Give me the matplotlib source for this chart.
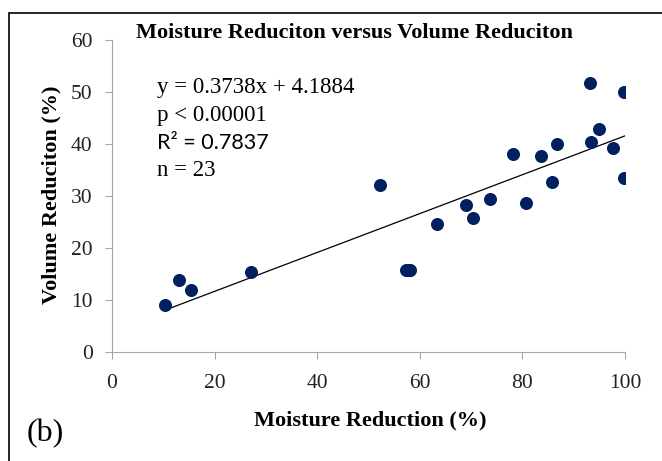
import numpy as np
import matplotlib.pyplot as plt
from matplotlib.patches import Rectangle

# moisture reduction (%) vs volume reduction (%)
moisture = [10.3, 13.1, 15.4, 27.1, 52.2, 57.3, 57.8, 58.1, 63.4, 69.0, 70.4, 73.7,
            78.2, 80.7, 83.6, 85.8, 86.8, 93.2, 93.4, 94.9, 97.7, 99.8, 99.8]
volume = [9.0, 13.8, 11.9, 15.4, 32.1, 15.8, 15.8, 15.8, 24.6, 28.3, 25.8, 29.4,
          38.1, 28.7, 37.7, 32.7, 40.0, 51.7, 40.4, 42.9, 39.2, 50.0, 33.5]
slope = 0.3738
intercept = 4.1884
xticks = [0, 20, 40, 60, 80, 100]
yticks = [0, 10, 20, 30, 40, 50, 60]

serif = ['Liberation Serif', 'DejaVu Serif']

fig = plt.figure(figsize=(6.62, 4.61), dpi=100)
ax = fig.add_axes([112/662, 1 - 352/461, (625-112)/662, (352-40)/461])

ax.scatter(moisture, volume, s=70, color='#002060', zorder=3)
xs = np.array([min(moisture), 100])
ax.plot(xs, slope*xs + intercept, color='black', lw=0.9)

ax.set_xlim(0, 100)
ax.set_ylim(0, 60)
ax.set_xticks(xticks)
ax.set_yticks(yticks)
for s in ['top', 'right']:
    ax.spines[s].set_visible(False)
for s in ['left', 'bottom']:
    ax.spines[s].set_color('#a6a6a6')
ax.tick_params(direction='out', length=5, color='#a6a6a6', labelsize=15.5)
ax.tick_params(axis='x', pad=11)
ax.tick_params(axis='y', pad=9)
for lab in ax.get_xticklabels() + ax.get_yticklabels():
    lab.set_family(serif)
    lab.set_color('#222222')

fig.text(370/662, 1 - 420/461, 'Moisture Reduction (%)', family=serif, fontsize=16,
         fontweight='bold', ha='center', va='center')
fig.text(51/662, 1 - 195/461, 'Volume Reduciton (%)', family=serif, fontsize=16,
         fontweight='bold', ha='center', va='center', rotation=90)
fig.text(354/662, 1 - 33/461, 'Moisture Reduciton versus Volume Reduciton', family=serif,
         fontsize=16, fontweight='bold', ha='center', va='center')

fig.text(157/662, 1 - 88/461, 'y = 0.3738x + 4.1884', family=serif, fontsize=16.5, va='center')
fig.text(157/662, 1 - 116/461, 'p < 0.00001', family=serif, fontsize=16.5, va='center')
fig.text(157/662, 1 - 143/461, 'R² = 0.7837', family=['Lato', 'DejaVu Sans'], fontsize=15.5, va='center')
fig.text(157/662, 1 - 170/461, 'n = 23', family=serif, fontsize=16.5, va='center')

fig.text(27/662, 1 - 434/461, '(b)', family=serif, fontsize=23, va='center')

# frame: only the top and left edges fall inside the picture
fig.patches.append(Rectangle((9/662, -0.1), 1.0, 1.1 - 13/461, transform=fig.transFigure,
                             fill=False, edgecolor='black', lw=1.2))

fig.savefig('out.png', dpi=100)
